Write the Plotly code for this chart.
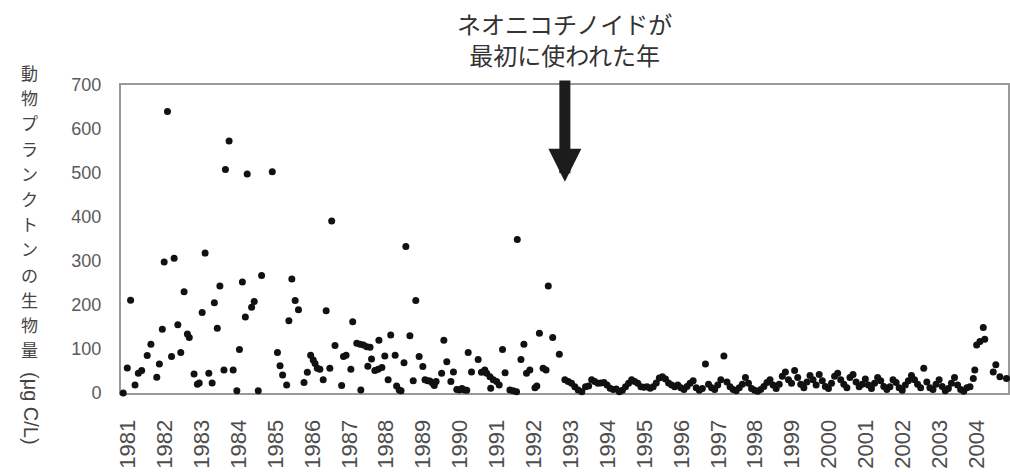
import plotly.graph_objects as go

# ---- data -----------------------------------------------------------------
# early period: (decimal year, biomass µg C/L)
early_years = [
    1980.87, 1980.98, 1981.07, 1981.19, 1981.28, 1981.37, 1981.52, 1981.62, 1981.78, 1981.85,
    1981.93, 1981.98, 1982.07, 1982.18, 1982.25, 1982.35, 1982.43, 1982.52, 1982.61, 1982.66,
    1982.79, 1982.88, 1982.93, 1983.01, 1983.09, 1983.19, 1983.28, 1983.34, 1983.42, 1983.49,
    1983.60, 1983.64, 1983.74, 1983.85, 1983.95, 1984.02, 1984.10, 1984.18, 1984.23, 1984.35,
    1984.42, 1984.53, 1984.62, 1984.91, 1985.05, 1985.12, 1985.19, 1985.30, 1985.36, 1985.44,
    1985.53, 1985.62, 1985.77, 1985.86, 1985.95, 1986.02, 1986.07, 1986.13, 1986.20, 1986.29,
    1986.37, 1986.47, 1986.52, 1986.61, 1986.79, 1986.84, 1986.91, 1987.04, 1987.09, 1987.20,
    1987.29, 1987.31, 1987.38, 1987.47, 1987.50, 1987.56, 1987.60, 1987.69, 1987.78, 1987.80,
    1987.88, 1987.96, 1988.05, 1988.12, 1988.24, 1988.28, 1988.35, 1988.40, 1988.48, 1988.53,
    1988.64, 1988.73, 1988.80, 1988.89, 1988.99, 1989.05, 1989.12, 1989.18, 1989.25, 1989.30,
    1989.35, 1989.50, 1989.56, 1989.64, 1989.75, 1989.82, 1989.91, 1989.98, 1990.05, 1990.12,
    1990.18, 1990.22, 1990.31, 1990.49, 1990.58, 1990.67, 1990.72, 1990.81, 1990.83, 1990.90,
    1990.99, 1991.06, 1991.15, 1991.22, 1991.35, 1991.44, 1991.53, 1991.55, 1991.65, 1991.73,
    1991.80, 1991.89, 1992.03, 1992.08, 1992.15, 1992.25, 1992.33, 1992.39, 1992.51, 1992.69,
    1992.84, 1992.93, 1993.02, 1993.11, 1993.20, 1993.30,
]
early_values = [
    0, 57, 211, 18, 45, 51, 85, 111, 36, 66,
    145, 298, 640, 83, 306, 155, 92, 230, 134, 126,
    43, 20, 23, 183, 318, 45, 23, 205, 147, 243,
    52, 508, 573, 52, 5, 99, 252, 173, 498, 195,
    208, 5, 267, 503, 92, 62, 41, 18, 164, 259,
    210, 189, 24, 47, 86, 75, 67, 56, 54, 30,
    187, 56, 391, 108, 17, 83, 86, 54, 162, 113,
    111, 7, 109, 105, 61, 104, 77, 51, 54, 120,
    58, 84, 30, 132, 86, 16, 7, 5, 69, 333,
    130, 28, 210, 83, 60, 30, 28, 27, 23, 17,
    26, 45, 120, 71, 26, 48, 8, 7, 10, 7,
    6, 92, 48, 76, 47, 52, 45, 37, 11, 30,
    26, 18, 99, 46, 7, 5, 3, 349, 76, 111,
    45, 52, 12, 16, 136, 56, 52, 243, 126, 88,
    30, 26, 22, 14, 7, 3,
]

# low period after 1993: roughly monthly samples starting at band_start
band_start = 1993.40
band_values = [
    14, 16, 30, 26, 22, 23, 24, 18, 11, 8, 9, 3, 6, 14, 22, 30, 26, 22, 14, 13,
    14, 11, 14, 23, 34, 37, 32, 23, 18, 14, 18, 12, 8,
    15, 22, 28, 12, 6, 10, 66, 20, 12, 8, 18, 30,
    84, 25, 14, 8, 5, 12, 20, 35, 22, 10, 6, 4,
    8, 15, 24, 30, 18, 10, 20, 38, 48, 30, 22, 51,
    35, 20, 12, 25, 40, 30, 18, 42, 28, 15, 10, 22,
    38, 45, 30, 20, 12, 35, 42, 25, 14, 20, 32, 18,
    10, 22, 35, 28, 15, 8, 14, 30, 24, 12, 6, 18,
    28, 40, 30, 20, 12, 56, 25, 12, 8, 20, 30, 15,
    5, 10, 22, 35, 18, 8, 4, 12,
]

# last year (2004)
late_years = [2003.82, 2003.91, 2003.95, 2004.00, 2004.09, 2004.18, 2004.22, 2004.45, 2004.52, 2004.63, 2004.81]
late_values = [14, 33, 52, 109, 117, 149, 122, 48, 64, 37, 33]

year_ticks = list(range(1981, 2005))
year_labels = [str(y) for y in year_ticks]

first_use_year = 1992.84  # arrow position (first use of neonicotinoids)

title_text = "ネオニコチノイドが<br>最初に使われた年"
y_title_vertical = "動物プランクトンの生物量"
y_title_unit = "(μg C/L)"

# ---- assemble ---------------------------------------------------------------
band_years = [band_start + i / 12 for i in range(len(band_values))]
xs = early_years + band_years + late_years
ys = early_values + band_values + late_values

fig = go.Figure()
fig.add_trace(go.Scatter(
    x=xs, y=ys, mode="markers",
    marker=dict(size=7, color="#111111"),
    cliponaxis=False, showlegend=False,
))

axis_line = dict(showline=True, mirror=True, linecolor="#9a9a9a", linewidth=2,
                 showgrid=False, zeroline=False, ticks="", layer="below traces",
                 automargin=False)

fig.update_xaxes(
    range=[1980.81, 2004.85], tickmode="array",
    tickvals=year_ticks, ticktext=year_labels,
    tickangle=-90, tickfont=dict(family="Liberation Sans, Arial", size=22, color="#4d4d4d"),
    ticklabelstandoff=16, **axis_line,
)
fig.update_yaxes(
    range=[0, 700], dtick=100,
    tickfont=dict(family="Liberation Sans, Arial", size=18, color="#5a5a5a"),
    ticklabelstandoff=14, **axis_line,
)

cjk = "Noto Sans CJK JP"
plot_top, plot_h = 85, 308          # plot area in pixels
y_per_px = 700 / plot_h

# title text with the arrow pointing down at the first-use year
fig.add_annotation(
    text=title_text, font=dict(family=cjk, size=24, color="#333333"),
    x=first_use_year, y=480, ax=first_use_year, ay=(plot_top + plot_h - 39) * y_per_px,
    xref="x", yref="y", axref="x", ayref="y",
    showarrow=True, arrowhead=2, arrowsize=0.6, arrowwidth=11,
    arrowcolor="#1c1c1c", standoff=0, startstandoff=7,
)

# vertical (tategaki) axis title: one character per slot, stacked downward
col_x = (29 - 121) / 887            # column centre, paper units
first_char_px, char_pitch_px = 72.5, 25.2
for i, ch in enumerate(y_title_vertical):
    cy = first_char_px + i * char_pitch_px
    fig.add_annotation(
        text=ch, xref="paper", yref="paper",
        x=col_x, y=(plot_top + plot_h - cy) / plot_h,
        xanchor="center", yanchor="middle", showarrow=False,
        font=dict(family=cjk, size=17, color="#444444"),
    )
fig.add_annotation(
    text=y_title_unit, xref="paper", yref="paper", textangle=90,
    x=(31 - 121) / 887, y=(plot_top + plot_h - 408) / plot_h,
    xanchor="center", yanchor="middle", showarrow=False,
    font=dict(family="Liberation Sans, Arial", size=20, color="#444444"),
)

fig.update_layout(
    width=1010, height=472,
    margin=dict(l=121, r=2, t=85, b=79),
    paper_bgcolor="white", plot_bgcolor="white",
)

fig.write_html("out.html", config={"displayModeBar": False},
               post_script="document.body.style.margin='0';")
